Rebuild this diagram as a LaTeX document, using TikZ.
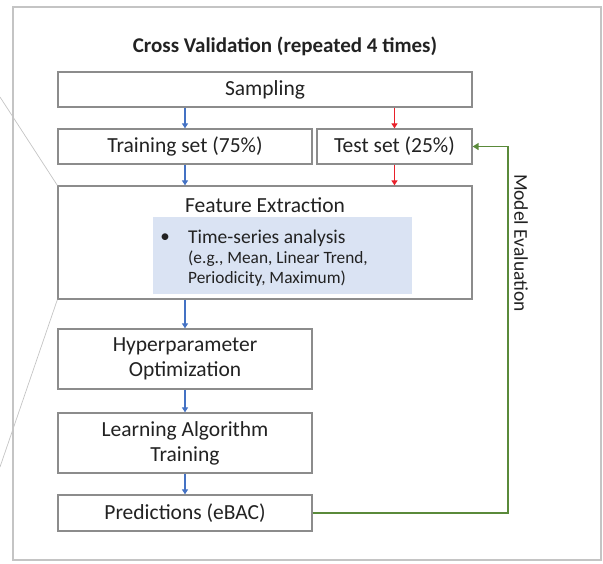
\documentclass[tikz,border=0pt]{standalone}
\usepackage{fontspec}
\setmainfont{Carlito}
\usetikzlibrary{arrows.meta}

\definecolor{boxgray}{HTML}{8C8C8C}
\definecolor{framegray}{HTML}{C4C4C4}
\definecolor{txtgray}{HTML}{222222}
\definecolor{arrblue}{HTML}{4472C4}
\definecolor{arrred}{HTML}{E8202A}
\definecolor{evalgreen}{HTML}{5A8A3A}
\definecolor{shadeblue}{HTML}{DAE3F3}

\tikzset{
  stagebox/.style={draw=boxgray,line width=1.3pt,fill=white,inner sep=0pt,
    text=txtgray,font=\fontsize{21.5}{25}\selectfont,align=center},
  bluearrow/.style={arrblue,line width=1.3pt,-{Triangle[width=6pt,length=5pt]}},
  redarrow/.style={arrred,line width=1.3pt,-{Triangle[width=6pt,length=5pt]}},
  evalarrow/.style={evalgreen,line width=1.7pt,-{Triangle[width=7pt,length=6pt]}}
}

\begin{document}
\begin{tikzpicture}[x=1pt,y=-1pt]
    \useasboundingbox (0,0) rectangle (603,563);

    \coordinate (z1) at (0, 97);
    \coordinate (z2) at (0, 467);
    \coordinate (evalx) at (508, 0);

    \draw [framegray, line width=1.3pt] (13, 7) rectangle (601, 560);

    \node [text=txtgray,font=\bfseries\fontsize{21}{25}\selectfont]
    (title) at (285, 46) {Cross Validation (repeated 4 times)};

    \node [stagebox,minimum width=414pt,minimum height=35pt]
    (sampling) at (265, 89.5) {Sampling};

    \node [stagebox,minimum width=254pt,minimum height=35pt]
    (train) at (185, 146.5) {Training set (75\%)};

    \node [stagebox,minimum width=155pt,minimum height=35pt]
    (test) at (394.5, 146.5) {Test set (25\%)};

    \node [stagebox,minimum width=414pt,minimum height=113pt]
    (feat) at (265, 242.5) {};

    \node [text=txtgray,font=\fontsize{21.5}{25}\selectfont]
    (feattitle) at (265, 205) {Feature Extraction};

    \node [fill=shadeblue,minimum width=259pt,minimum height=77pt,inner sep=0pt]
    (shade) at (282.5, 255.5) {};

    \node [anchor=center,text=txtgray,font=\fontsize{19}{22}\selectfont]
    (bullet) at (165, 238) {\textbullet};

    \node [anchor=west,inner sep=0pt,text=txtgray,font=\fontsize{19.5}{22}\selectfont]
    (tsa) at (188, 238) {Time-series analysis};

    \node [anchor=west,inner sep=0pt,align=left,text=txtgray,
    font=\fontsize{17.3}{20}\selectfont]
    (examples) at (188, 269) {(e.g., Mean, Linear Trend,\\Periodicity, Maximum)};

    \node [stagebox,minimum width=254pt,minimum height=60pt]
    (hyper) at (185, 359) {Hyperparameter\\Optimization};

    \node [stagebox,minimum width=254pt,minimum height=60pt]
    (learn) at (185, 443) {Learning Algorithm\\Training};

    \node [stagebox,minimum width=254pt,minimum height=36pt]
    (pred) at (185, 513) {Predictions (eBAC)};

    \draw [framegray, line width=0.7pt] (z1) -- (feat.north west);
    \draw [framegray, line width=0.7pt] (z2) -- (feat.south west);

    \draw [bluearrow] (train.north |- sampling.south) -- (train.north);
    \draw [redarrow] (test.north |- sampling.south) -- (test.north);
    \draw [bluearrow] (train.south) -- (train.south |- feat.north);
    \draw [redarrow] (test.south) -- (test.south |- feat.north);
    \draw [bluearrow] (hyper.north |- feat.south) -- (hyper.north);
    \draw [bluearrow] (hyper.south) -- (learn.north);
    \draw [bluearrow] (learn.south) -- (pred.north);

    \draw [evalarrow] (pred.east) -| (evalx |- test.east) -- (test.east);

    \node [rotate=-90,text=txtgray,font=\fontsize{19.5}{22}\selectfont]
    (evallabel) at (521, 243) {Model Evaluation};
  \end{tikzpicture}
\end{document}
